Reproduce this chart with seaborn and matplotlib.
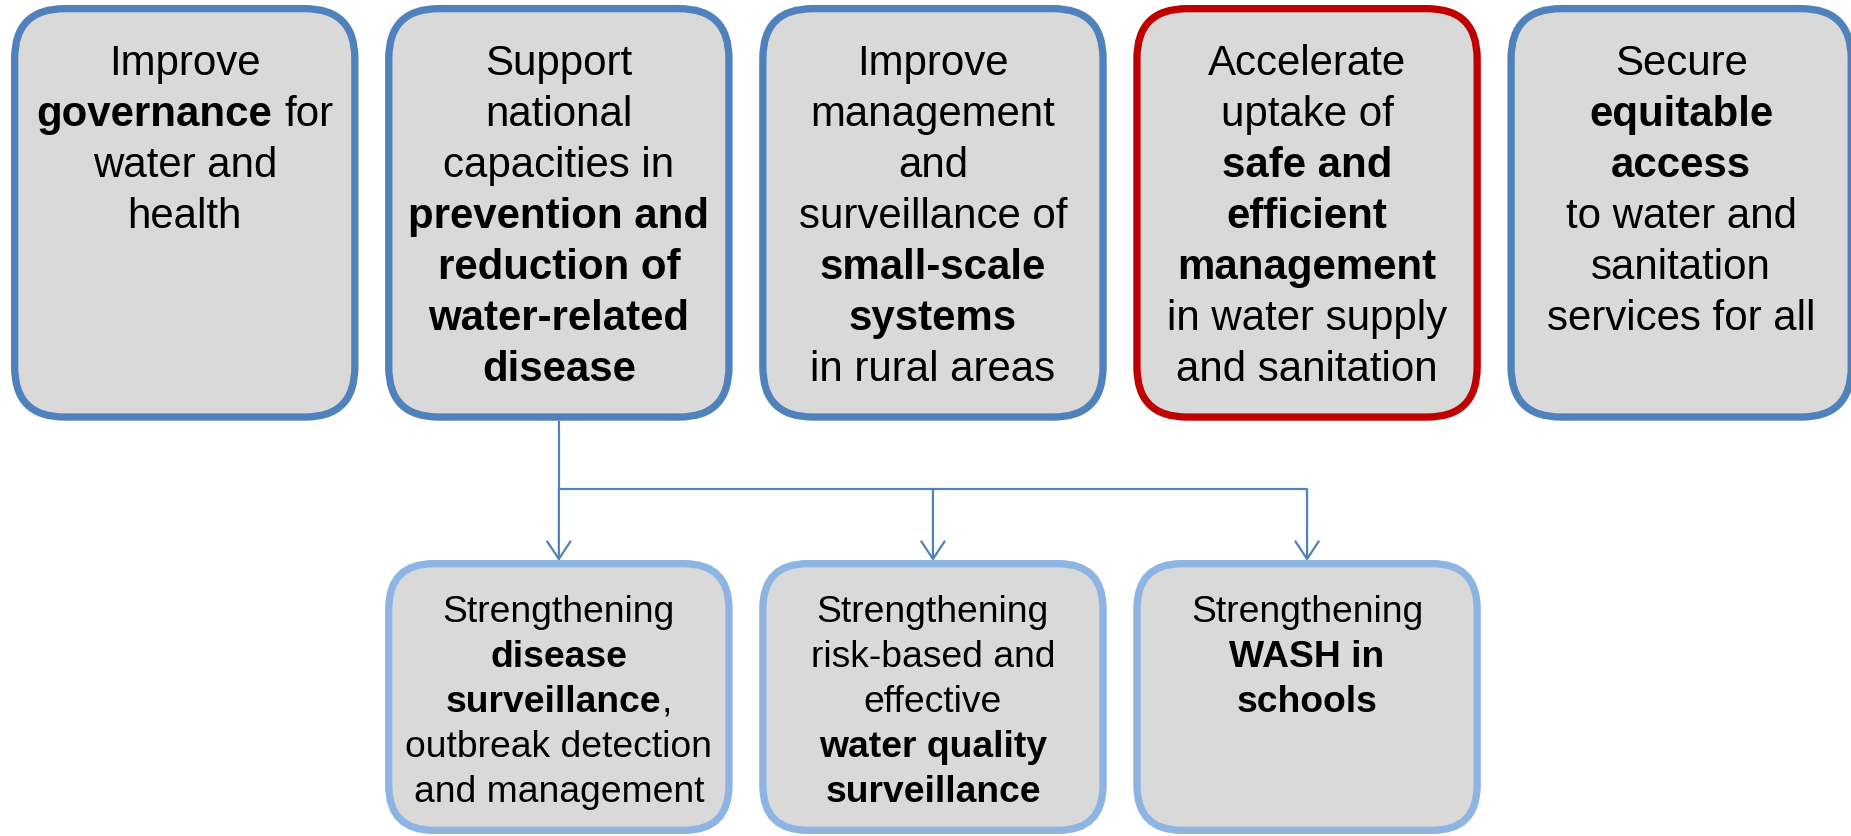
"""
水と健康の優先分野ダイアグラム
上段5ボックス + 下段3ボックス（矢印で接続）
"""
import matplotlib
matplotlib.use("Agg")
import matplotlib.pyplot as plt
from matplotlib.patches import FancyBboxPatch
import seaborn as sns

# 上段ボックスの文言（** で囲んだ部分は太字）
TOP_TEXTS = [
    ["Improve", "**governance** for", "water and", "health"],
    ["Support", "national", "capacities in", "**prevention and**",
     "**reduction of**", "**water-related**", "**disease**"],
    ["Improve", "management", "and", "surveillance of",
     "**small-scale**", "**systems**", "in rural areas"],
    ["Accelerate", "uptake of", "**safe and**", "**efficient**",
     "**management**", "in water supply", "and sanitation"],
    ["Secure", "**equitable**", "**access**", "to water and",
     "sanitation", "services for all"],
]
TOP_HIGHLIGHT = [False, False, False, True, False]

# 下段ボックスの文言
SUB_TEXTS = [
    ["Strengthening", "**disease**", "**surveillance**,",
     "outbreak detection", "and management"],
    ["Strengthening", "risk-based and", "effective",
     "**water quality**", "**surveillance**"],
    ["Strengthening", "**WASH in**", "**schools**"],
]
SUB_PARENT = 1
SUB_COLUMNS = [1, 2, 3]

# スタイル
BLUE = "#4F81BD"
RED = "#C00000"
LIGHT_BLUE = "#8DB4E2"
FILL = "#D9D9D9"

W, H, DPI = 1851, 837, 100
PITCH = 374.1
BOX_X0 = 11
BOX_W = 347.5
TOP_Y0, TOP_H = 6, 415.7
SUB_Y0, SUB_H = 561, 274
BORDER_PX = 7.3
PX = 72 / DPI

sns.set_theme(style="white")
plt.rcParams['font.family'] = ['Liberation Sans', 'DejaVu Sans']


def parse_line(line):
    """'**bold** normal' -> [(text, bold), ...]"""
    parts = line.split("**")
    return [(p, i % 2 == 1) for i, p in enumerate(parts) if p]


def text_width(ax, renderer, s, bold, size):
    weight = "bold" if bold else "normal"
    t1 = ax.text(0, 0, "|" + s + "|", fontsize=size, fontweight=weight)
    t2 = ax.text(0, 0, "||", fontsize=size, fontweight=weight)
    w = t1.get_window_extent(renderer).width - t2.get_window_extent(renderer).width
    t1.remove()
    t2.remove()
    return w


def draw_lines(ax, renderer, xc, y_first, lines, size, spacing):
    for k, line in enumerate(lines):
        segs = parse_line(line)
        widths = [text_width(ax, renderer, s, b, size) for s, b in segs]
        x = xc - sum(widths) / 2
        y = y_first + k * spacing
        for (s, b), w in zip(segs, widths):
            lead = len(s) - len(s.lstrip())
            lead_w = text_width(ax, renderer, s[:lead], b, size) if lead else 0
            ax.text(x + lead_w, y, s.strip(), fontsize=size,
                    fontweight="bold" if b else "normal",
                    ha="left", va="baseline", color="black")
            x += w


def draw_box(ax, x0, y0, w, h, edge, radius):
    half = BORDER_PX / 2
    box = FancyBboxPatch(
        (x0 + half, y0 + half), w - BORDER_PX, h - BORDER_PX,
        boxstyle=f"round,pad=0,rounding_size={radius}",
        facecolor=FILL, edgecolor=edge, linewidth=BORDER_PX * PX, zorder=2
    )
    ax.add_patch(box)


fig = plt.figure(figsize=(W / DPI, H / DPI), dpi=DPI)
ax = fig.add_axes([0, 0, 1, 1])
ax.set_xlim(0, W)
ax.set_ylim(H, 0)
ax.axis("off")
renderer = fig.canvas.get_renderer()

# 上段
for i, lines in enumerate(TOP_TEXTS):
    x0 = BOX_X0 + i * PITCH
    edge = RED if TOP_HIGHLIGHT[i] else BLUE
    draw_box(ax, x0, TOP_Y0, BOX_W, TOP_H, edge, 50)
    draw_lines(ax, renderer, x0 + BOX_W / 2, TOP_Y0 + 69, lines,
               42 * PX, 51)

# 下段
for col, lines in zip(SUB_COLUMNS, SUB_TEXTS):
    x0 = BOX_X0 + col * PITCH
    draw_box(ax, x0, SUB_Y0, BOX_W, SUB_H, LIGHT_BLUE, 45)
    draw_lines(ax, renderer, x0 + BOX_W / 2, SUB_Y0 + 61, lines,
               37.2 * PX, 45)

# 接続線
bar_y = 490
line_lw = 2.2 * PX
parent_x = BOX_X0 + SUB_PARENT * PITCH + BOX_W / 2
child_x = [BOX_X0 + c * PITCH + BOX_W / 2 for c in SUB_COLUMNS]
ax.plot([parent_x, parent_x], [TOP_Y0 + TOP_H, bar_y], color=BLUE,
        lw=line_lw, solid_capstyle="butt", zorder=1)
ax.plot([min(child_x), max(child_x)], [bar_y, bar_y], color=BLUE,
        lw=line_lw, solid_capstyle="butt", zorder=1)
for cx in child_x:
    ax.annotate(
        "", xy=(cx, SUB_Y0 + 1), xytext=(cx, bar_y),
        arrowprops=dict(arrowstyle="->,head_length=1.27,head_width=0.84",
                        mutation_scale=10, color=BLUE, lw=line_lw,
                        shrinkA=0, shrinkB=0),
        zorder=1
    )

plt.savefig("out.png", dpi=DPI, facecolor="white")
